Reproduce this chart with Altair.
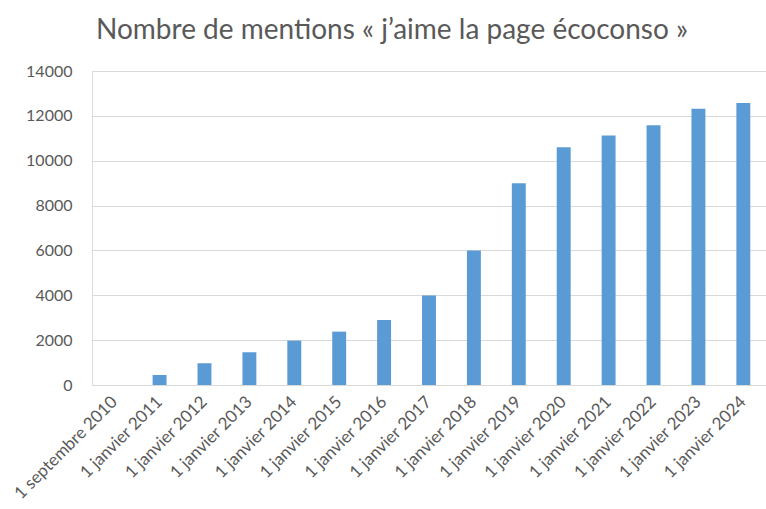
import altair as alt
import pandas as pd

categories = ["1 septembre 2010", "1 janvier 2011", "1 janvier 2012", "1 janvier 2013",
              "1 janvier 2014", "1 janvier 2015", "1 janvier 2016", "1 janvier 2017",
              "1 janvier 2018", "1 janvier 2019", "1 janvier 2020", "1 janvier 2021",
              "1 janvier 2022", "1 janvier 2023", "1 janvier 2024"]
values = [0, 450, 970, 1460, 1980, 2380, 2900, 3990, 6000, 9000, 10600, 11120, 11580, 12320, 12570]

df = pd.DataFrame({"date": categories, "mentions": values})

FONT = "Lato"
GRAY = "#595959"

chart = alt.Chart(df).mark_bar(color="#5B9BD5").encode(
    x=alt.X("date:N", sort=categories, title=None,
            scale=alt.Scale(paddingInner=0.69, paddingOuter=0.35),
            axis=alt.Axis(labelAngle=-45, labelAlign="right", labelBaseline="middle",
                          labelFontSize=17, labelFont=FONT, labelColor=GRAY,
                          ticks=False, domain=False, labelPadding=14)),
    y=alt.Y("mentions:Q", title=None,
            scale=alt.Scale(domain=[0, 14000]),
            axis=alt.Axis(values=list(range(0, 14001, 2000)), format="d", labelFontSize=16,
                          labelFont=FONT, labelColor=GRAY, ticks=False, domain=False,
                          gridColor="#D9D9D9", labelPadding=20)),
).properties(
    width=674, height=314,
    title=alt.TitleParams("Nombre de mentions « j’aime la page écoconso »",
                          font=FONT, fontSize=28, fontWeight="normal", color=GRAY,
                          anchor="middle", dx=-37, offset=18),
    autosize=alt.AutoSizeParams(type="none"),
    padding={"left": 92, "top": 71, "right": 0, "bottom": 124},
).configure_view(stroke=None).configure(background="white")

chart.save("out.html", embed_options={"renderer": "svg", "actions": False})
